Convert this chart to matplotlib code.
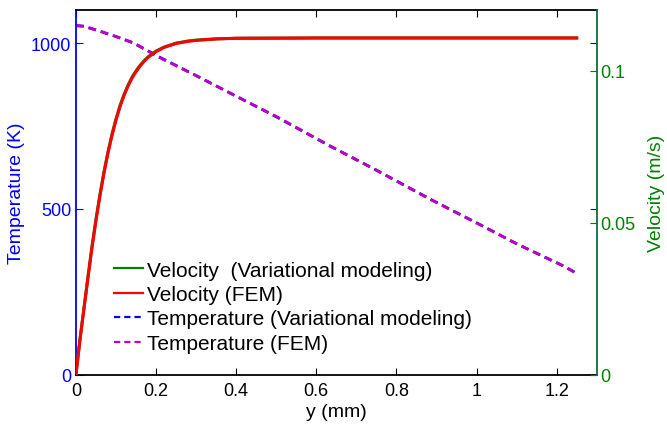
import matplotlib
matplotlib.use("Agg")
import matplotlib.pyplot as plt
from matplotlib.ticker import FuncFormatter

plt.rcParams['font.family'] = ['Liberation Sans', 'DejaVu Sans']

# velocity profiles (y in mm, velocity in m/s)
y_vel = [0, 0.01, 0.02, 0.03, 0.04, 0.05, 0.06, 0.07, 0.08, 0.09, 0.10, 0.11,
         0.12, 0.13, 0.14, 0.15, 0.16, 0.17, 0.18, 0.19, 0.20, 0.22, 0.25,
         0.28, 0.30, 0.35, 0.40, 0.60, 0.80, 1.00, 1.25]
vel_var = [0, 0.0117, 0.0220, 0.0323, 0.0422, 0.0512, 0.0594, 0.0668, 0.0734,
           0.0792, 0.0842, 0.0886, 0.0922, 0.0953, 0.0979, 0.1000, 0.1018,
           0.1033, 0.1046, 0.1056, 0.1065, 0.1078, 0.1091, 0.1098, 0.1101,
           0.1105, 0.1107, 0.1108, 0.1108, 0.1108, 0.1108]
vel_fem = [0, 0.0115, 0.0217, 0.0319, 0.0418, 0.0508, 0.0590, 0.0664, 0.0730,
           0.0788, 0.0838, 0.0882, 0.0919, 0.0950, 0.0976, 0.0997, 0.1015,
           0.1031, 0.1044, 0.1054, 0.1063, 0.1077, 0.1090, 0.1097, 0.1100,
           0.1105, 0.1107, 0.1108, 0.1108, 0.1108, 0.1108]

# temperature profiles (K)
y_temp = [0, 0.02, 0.06, 0.10, 0.143, 0.21, 0.31, 0.40, 0.50, 0.634, 0.75,
          0.884, 1.00, 1.10, 1.217, 1.25]
temp_var = [1053, 1051, 1036, 1020, 1001, 957, 896, 840, 778, 690, 617,
            530, 458, 395, 328, 306]
temp_fem = [1053, 1051, 1036, 1020, 1001, 956, 896, 840, 779, 690, 617,
            529, 458, 395, 328, 305]

x_ticks = [0, 0.2, 0.4, 0.6, 0.8, 1.0, 1.2]
t_ticks = [0, 500, 1000]
v_ticks = [0, 0.05, 0.1]

blue = (0, 0, 1)
green = (0, 0.5, 0)
spine_green = '#0e6e3e'
fmt = FuncFormatter(lambda v, p: '%g' % v)

fig = plt.figure(figsize=(6.67, 4.27), dpi=100)
ax1 = fig.add_axes([0.1139, 0.1201, 0.7807, 0.8541])
ax2 = ax1.twinx()

dash = (0, (2.8, 1.8))
l3, = ax1.plot(y_temp, temp_var, color=blue, lw=2.0, linestyle=dash,
               label='Temperature (Variational modeling)')
l4, = ax1.plot(y_temp, temp_fem, color=(0.75, 0, 0.75), lw=2.0, linestyle=dash,
               label='Temperature (FEM)')
l1, = ax2.plot(y_vel, vel_var, color=green, lw=2.2,
               label='Velocity  (Variational modeling)')
l2, = ax2.plot(y_vel, vel_fem, color=(1, 0, 0), lw=2.2,
               label='Velocity (FEM)')

ax1.set_xlim(0, 1.3)
ax1.set_ylim(0, 1100)
ax2.set_ylim(0, 0.12)
ax1.set_xticks(x_ticks)
ax1.set_yticks(t_ticks)
ax2.set_yticks(v_ticks)
ax1.xaxis.set_major_formatter(fmt)
ax1.yaxis.set_major_formatter(fmt)
ax2.yaxis.set_major_formatter(fmt)

ax1.tick_params(axis='x', direction='in', length=5, top=True, pad=5,
                labelsize=13, colors='black')
ax1.tick_params(axis='y', direction='in', length=5, right=True, pad=3.5,
                labelsize=13, colors=blue)
ax2.tick_params(axis='y', direction='in', length=5, pad=2.5,
                labelsize=13, colors=green)

ax1.spines['left'].set_color(blue)
ax1.spines['right'].set_visible(False)
for s in ['left', 'top', 'bottom']:
    ax2.spines[s].set_visible(False)
ax2.spines['right'].set_color(spine_green)
for ax in (ax1, ax2):
    for s in ax.spines.values():
        s.set_linewidth(1.3)

ax1.set_xlabel('y (mm)', fontsize=14)
ax1.set_ylabel('Temperature (K)', fontsize=14, color=blue)
ax2.set_ylabel('Velocity (m/s)', fontsize=14, color=green)
ax1.xaxis.set_label_coords(0.5, -0.102)
ax1.xaxis.label.set_verticalalignment('center')
ax1.yaxis.set_label_coords(-0.115, 0.5)
ax1.yaxis.label.set_verticalalignment('center')
ax2.yaxis.set_label_coords(1.114, 0.5)
ax2.yaxis.label.set_verticalalignment('center')

leg = ax2.legend([l1, l2, l3, l4], [l.get_label() for l in (l1, l2, l3, l4)],
                 loc='upper left', bbox_to_anchor=(0.073, 0.313), frameon=False,
                 fontsize=15, handlelength=1.4, handletextpad=0.2,
                 labelspacing=0.26, borderpad=0, borderaxespad=0)
for ln in leg.get_lines():
    ln.set_linewidth(1.6)

fig.savefig('out.png', dpi=100)
